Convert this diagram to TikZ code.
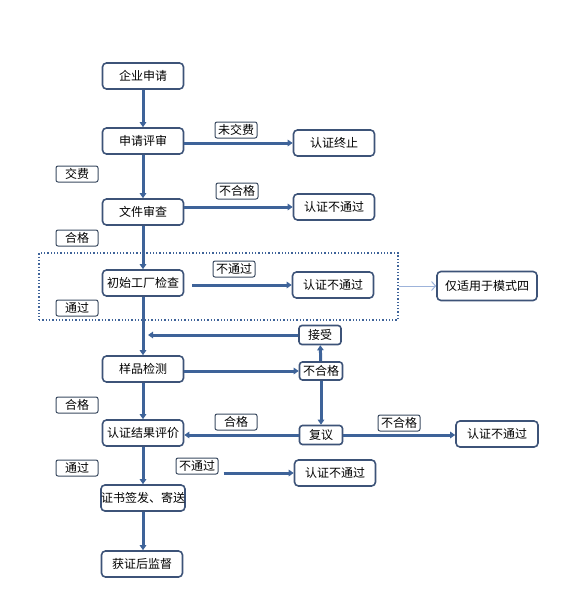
\documentclass[tikz,border=0pt]{standalone}
\usepackage{fontspec}
\newfontfamily\cjk{Noto Sans CJK SC}
\usetikzlibrary{
    arrows.meta,
    positioning,
    calc,
}
\definecolor{boxline}{HTML}{3D5378}
\definecolor{flow}{HTML}{3E6399}
\definecolor{lightflow}{HTML}{9DB3DA}
\definecolor{tagline}{HTML}{3A4A60}

\begin{document}
\begin{tikzpicture}[x=1pt, y=-1pt,
        font=\cjk\fontsize{12}{14}\selectfont,
        stepbox/.style={draw=boxline, line width=1.6pt, rounded corners=4pt,
            minimum width=81pt, minimum height=26pt, inner sep=2pt, fill=white},
        tagbox/.style={draw=tagline, line width=1pt, rounded corners=2pt,
            minimum width=42pt, minimum height=16pt, inner sep=1pt, fill=white},
        flowline/.style={draw=flow, line width=3pt, -{Triangle[length=5pt,width=6.5pt]}},
    ]
        \useasboundingbox (0,0) rectangle (576,616);
        % dotted zone (mode four only)
        \node (zone) [draw=flow, dotted, line width=1.3pt, minimum width=359pt,
            minimum height=67pt, inner sep=0pt] at (218.5,286.5) {};

        % main column
        \node (apply)   [stepbox] at (143,76)  {企业申请};
        \node (review)  [stepbox] at (143,141) {申请评审};
        \node (docs)    [stepbox] at (143,212) {文件审查};
        \node (factory) [stepbox] at (143,283) {初始工厂检查};
        \node (sample)  [stepbox] at (143,369) {样品检测};
        \node (eval)    [stepbox] at (143,433) {认证结果评价};
        \node (cert)    [stepbox, inner xsep=0pt] at (143,498) {证书签发、寄送};
        \node (super)   [stepbox] at (142,564) {获证后监督};

        % outcomes
        \node (stop)  [stepbox] at (334,143) {认证终止};
        \node (fail1) [stepbox] at (334,207) {认证不通过};
        \node (fail2) [stepbox] at (333,285) {认证不通过};
        \node (mode4) [stepbox, minimum width=100pt, minimum height=29pt] at (487,286) {仅适用于模式四};
        \node (fail3) [stepbox, minimum width=82pt] at (497,434) {认证不通过};
        \node (fail4) [stepbox] at (335,473) {认证不通过};

        % small boxes on the right branch
        \node (accept) [stepbox, minimum width=42pt, minimum height=19pt, rounded corners=3pt] at (320,335) {接受};
        \node (nok)    [stepbox, minimum width=43pt, minimum height=18pt, rounded corners=3pt] at (321,371) {不合格};
        \node (appeal) [stepbox, minimum width=43pt, minimum height=19pt, rounded corners=3pt] at (321,435) {复议};

        % tags
        \node (nofee)   [tagbox] at (236,130) {未交费};
        \node (fee)     [tagbox] at (77,174)  {交费};
        \node (docfail) [tagbox] at (237,191) {不合格};
        \node (docok)   [tagbox] at (77,238)  {合格};
        \node (facfail) [tagbox] at (234,269) {不通过};
        \node (facok)   [tagbox] at (77,308)  {通过};
        \node (testok)  [tagbox] at (77,405)  {合格};
        \node (appok)   [tagbox] at (236,422) {合格};
        \node (appfail) [tagbox] at (399,423) {不合格};
        \node (evalok)  [tagbox] at (77,468)  {通过};
        \node (evalno)  [tagbox] at (197,466) {不通过};

        % connectors
        \draw[flowline] (apply) -- (review);
        \draw[flowline] (review.east |- stop) -- (stop.west);
        \draw[flowline] (review) -- (docs);
        \draw[flowline] (docs.east |- fail1) -- (fail1.west);
        \draw[flowline] (docs) -- (factory);
        \draw[flowline] ([xshift=8pt]factory.east |- fail2) -- (fail2.west);
        \draw[flowline] (factory) -- (sample);
        \draw[flowline] (accept.west) -- ([xshift=5pt]factory.south |- accept.west);
        \draw[flowline] (sample.east |- nok) -- (nok.west);
        \draw[flowline] (nok) -- (accept);
        \draw[flowline] (nok) -- (appeal);
        \draw[flowline] (appeal.west) -- (eval.east |- appeal.west);
        \draw[flowline] (appeal.east) -- (fail3.west |- appeal.east);
        \draw[flowline] (sample) -- (eval);
        \draw[flowline] (eval) -- (cert);
        \draw[flowline] ([xshift=5pt]evalno.east |- fail4) -- (fail4.west);
        \draw[flowline] (cert.south) -- (cert.south |- super.north);
        \draw[lightflow, line width=1pt, -{Straight Barb[length=4pt,width=9pt]}]
            (zone.east |- mode4) -- (mode4.west);
    \end{tikzpicture}
\end{document}
